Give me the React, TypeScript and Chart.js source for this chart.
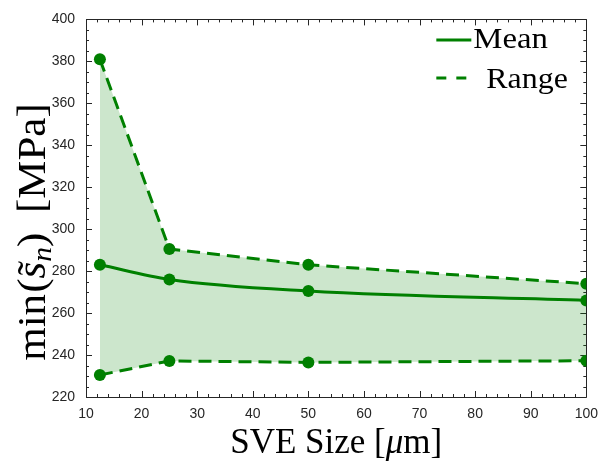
import React, { useEffect, useRef } from "react";
import { Chart, registerables } from "chart.js";

Chart.register(...registerables);

// ---- data ----
const sveSizes = [12.5, 25, 50, 100];
const meanValues = [283, 276, 270.5, 266];
const upperValues = [381, 290.5, 283, 274];
const lowerValues = [230.5, 237.2, 236.5, 237.3];

const xTickValues = [10, 20, 30, 40, 50, 60, 70, 80, 90, 100];
const yTickValues = [220, 240, 260, 280, 300, 320, 340, 360, 380, 400];
const xMinorStep = 2;
const yMinorStep = 5;

const legendLabels = ["Mean", "Range"];

const GREEN = "#008000";
const AXIS = "#262626";
const SERIF = '"Liberation Serif", "Times New Roman", serif';

const framePlugin = {
  id: "frame",
  beforeDatasetsDraw(chart: any) {
    const { ctx, chartArea, scales } = chart;
    const { left, right, top, bottom } = chartArea;
    const x = scales.x;
    const y = scales.y;
    ctx.save();
    ctx.strokeStyle = AXIS;
    ctx.lineWidth = 1;
    ctx.beginPath();
    ctx.rect(Math.round(left) + 0.5, Math.round(top) + 0.5, Math.round(right - left), Math.round(bottom - top));
    ctx.stroke();
    ctx.beginPath();
    const xMin = xTickValues[0];
    const xMax = xTickValues[xTickValues.length - 1];
    for (let v = xMin; v <= xMax + 1e-9; v += xMinorStep) {
      const major = xTickValues.includes(v);
      const len = major ? 6 : 3;
      const px = Math.round(x.getPixelForValue(v)) + 0.5;
      ctx.moveTo(px, bottom);
      ctx.lineTo(px, bottom - len);
      ctx.moveTo(px, top);
      ctx.lineTo(px, top + len);
    }
    const yMin = yTickValues[0];
    const yMax = yTickValues[yTickValues.length - 1];
    for (let v = yMin; v <= yMax + 1e-9; v += yMinorStep) {
      const major = yTickValues.includes(v);
      const len = major ? 6 : 3;
      const py = Math.round(y.getPixelForValue(v)) + 0.5;
      ctx.moveTo(left, py);
      ctx.lineTo(left + len, py);
      ctx.moveTo(right, py);
      ctx.lineTo(right - len, py);
    }
    ctx.stroke();
    ctx.restore();
  },
  afterDraw(chart: any) {
    const { ctx, chartArea } = chart;
    ctx.save();
    ctx.fillStyle = "#000";
    ctx.textBaseline = "alphabetic";

    // legend
    const lx0 = chartArea.right - 150;
    ctx.strokeStyle = GREEN;
    ctx.lineWidth = 3;
    ctx.beginPath();
    ctx.moveTo(lx0, 40);
    ctx.lineTo(lx0 + 35, 40);
    ctx.stroke();
    ctx.setLineDash([10, 10]);
    ctx.beginPath();
    ctx.moveTo(lx0, 78);
    ctx.lineTo(lx0 + 33, 78);
    ctx.stroke();
    ctx.setLineDash([]);
    ctx.font = `29px ${SERIF}`;
    ctx.textAlign = "left";
    const drawStretched = (t: string, x0: number, y0: number, sx: number) => {
      ctx.save();
      ctx.translate(x0, y0);
      ctx.scale(sx, 1);
      ctx.fillText(t, 0, 0);
      ctx.restore();
    };
    drawStretched(legendLabels[0], lx0 + 37, 48, 1.13);
    drawStretched(legendLabels[1], lx0 + 50, 88, 1.1);

    // x title: SVE Size [μm]
    const xParts: [string, boolean][] = [["SVE Size [", false], ["\u03bc", true], ["m]", false]];
    const xSize = 35;
    let total = 0;
    for (const [t, it] of xParts) {
      ctx.font = `${it ? "italic " : ""}${xSize}px ${SERIF}`;
      total += ctx.measureText(t).width;
    }
    let cx = (chartArea.left + chartArea.right) / 2 - total / 2;
    for (const [t, it] of xParts) {
      ctx.font = `${it ? "italic " : ""}${xSize}px ${SERIF}`;
      ctx.fillText(t, cx, 453);
      cx += ctx.measureText(t).width;
    }

    // y title: min(s~_n)  [MPa]
    const ySize = 39;
    const sx = 1.1;
    ctx.translate(45, 232);
    ctx.rotate(-Math.PI / 2);
    ctx.scale(sx, 1);
    const up = `${ySize}px ${SERIF}`;
    const itf = `italic ${ySize}px ${SERIF}`;
    const subf = `italic ${Math.round(ySize * 0.7)}px ${SERIF}`;
    const pieces: { t: string; f: string; dy: number; gapAfter?: number; tilde?: boolean }[] = [
      { t: "min", f: up, dy: 0, gapAfter: 1 },
      { t: "(", f: up, dy: 0 },
      { t: "s", f: itf, dy: 0, tilde: true },
      { t: "n", f: subf, dy: 6 },
      { t: ")", f: up, dy: 0, gapAfter: 18 },
      { t: "[MPa]", f: up, dy: 0 },
    ];
    let w = 0;
    for (const p of pieces) {
      ctx.font = p.f;
      w += ctx.measureText(p.t).width + (p.gapAfter || 0);
    }
    let px = -w / 2;
    for (const p of pieces) {
      ctx.font = p.f;
      const mw = ctx.measureText(p.t).width;
      ctx.fillText(p.t, px, p.dy);
      if (p.tilde) {
        ctx.font = up;
        ctx.textAlign = "center";
        ctx.fillText("\u02dc", px + mw / 2 + 2, 0);
        ctx.textAlign = "left";
      }
      px += mw + (p.gapAfter || 0);
    }
    ctx.restore();
  },
};

export default function App() {
  const ref = useRef<HTMLCanvasElement | null>(null);

  useEffect(() => {
    document.body.style.margin = "0";
    const canvas = ref.current;
    if (!canvas) return;
    const toPts = (vals: number[]) => sveSizes.map((s, i) => ({ x: s, y: vals[i] }));
    const chart = new Chart(canvas, {
      type: "line",
      data: {
        datasets: [
          {
            label: "Mean",
            data: toPts(meanValues),
            borderColor: GREEN,
            backgroundColor: GREEN,
            borderWidth: 3,
            pointRadius: 6,
            pointBorderWidth: 0,
            pointBackgroundColor: GREEN,
            cubicInterpolationMode: "monotone",
            fill: false,
          },
          {
            label: "Range",
            data: toPts(lowerValues),
            borderColor: GREEN,
            borderWidth: 3,
            borderDash: [13, 7],
            pointRadius: 6,
            pointBorderWidth: 0,
            pointBackgroundColor: GREEN,
            tension: 0,
            fill: false,
          },
          {
            label: "Range upper",
            data: toPts(upperValues),
            borderColor: GREEN,
            borderWidth: 3,
            borderDash: [13, 7],
            pointRadius: 6,
            pointBorderWidth: 0,
            pointBackgroundColor: GREEN,
            backgroundColor: "rgba(0,128,0,0.2)",
            tension: 0,
            fill: "-1",
          },
        ],
      },
      options: {
        animation: false,
        responsive: false,
        layout: { padding: { top: 13, right: 14, left: 0, bottom: 0 } },
        plugins: {
          legend: { display: false },
          tooltip: { enabled: false },
          filler: { propagate: false },
        },
        scales: {
          x: {
            type: "linear",
            min: xTickValues[0],
            max: xTickValues[xTickValues.length - 1],
            afterBuildTicks: (scale: any) => {
              scale.ticks = xTickValues.map((v) => ({ value: v }));
            },
            afterFit: (scale: any) => {
              scale.height = 68;
            },
            grid: { display: false, drawTicks: false },
            border: { display: false },
            ticks: {
              color: AXIS,
              font: { family: '"Liberation Sans", Arial, sans-serif', size: 14 },
              padding: 9,
              maxRotation: 0,
              autoSkip: false,
            },
          },
          y: {
            type: "linear",
            min: yTickValues[0],
            max: yTickValues[yTickValues.length - 1],
            afterBuildTicks: (scale: any) => {
              scale.ticks = yTickValues.map((v) => ({ value: v }));
            },
            afterFit: (scale: any) => {
              scale.width = 86;
            },
            grid: { display: false, drawTicks: false },
            border: { display: false },
            ticks: {
              color: AXIS,
              font: { family: '"Liberation Sans", Arial, sans-serif', size: 14 },
              padding: 11,
              autoSkip: false,
            },
          },
        },
      },
      plugins: [framePlugin],
    } as any);
    return () => chart.destroy();
  }, []);

  return (
    <div style={{ position: "absolute", left: 0, top: 0, width: 607, height: 465 }}>
      <canvas ref={ref} width={607} height={465} />
    </div>
  );
}
